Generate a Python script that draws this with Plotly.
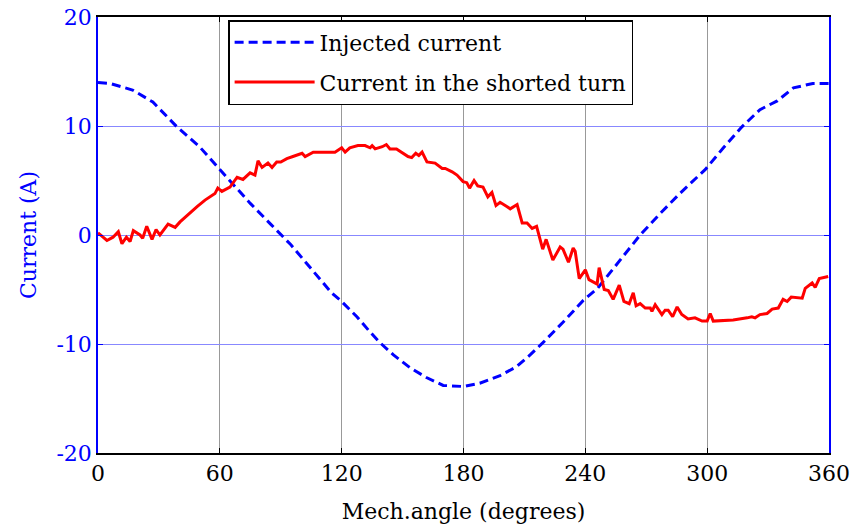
import plotly.graph_objects as go

# Injected current (blue dashed)
blue_x = [0, 6, 17, 27, 39, 50, 60, 75, 85, 95, 105, 115, 120, 127.5, 134, 139, 145.5, 153.8,
          162, 170, 180, 188, 198, 206, 212.8, 219, 229, 239, 246, 258, 267, 277, 286.5, 295,
          299, 308, 317, 326, 334.5, 342.5, 352, 360]
blue_y = [14.0, 13.9, 13.3, 12.2, 9.9, 8.1, 6.0, 2.9, 1.0, -0.9, -3.1, -5.3, -6.1, -7.5, -8.9, -9.9,
          -11.0, -12.2, -13.1, -13.8, -13.9, -13.6, -12.9, -12.1, -11.0, -9.9, -8.0, -6.0, -4.9,
          -2.1, 0.0, 2.0, 3.8, 5.3, 6.0, 8.0, 9.9, 11.5, 12.3, 13.5, 13.9, 13.9]

# Current in the shorted turn (red solid)
red_x = [0, 4.4, 7.4, 10, 11.8, 14, 15.8, 17.4, 20.7, 22, 24, 26.6, 28.6, 30.5, 34.5, 38, 40.4,
         43.8, 48.8, 52.7, 57.6, 59, 61, 65, 68.5, 71.4, 74.9, 77.3, 78.8, 80.8, 83.7, 85.7, 88,
         90, 93, 96, 100.5, 102, 106, 116.7, 120, 121.7, 124, 128, 131.5, 134, 135, 136.5, 140,
         142, 143.8, 147, 150, 152.7, 154.5, 156.5, 158, 159.6, 162, 164.5, 166, 169.5, 171,
         174.4, 176.8, 179.8, 181.6, 183, 185.2, 187, 189.6, 192, 194, 196, 198, 201.5, 203,
         206.4, 208.9, 211.3, 213.8, 216, 219, 220.7, 224, 227.6, 229, 231.7, 234, 235, 237,
         240, 241.8, 245.8, 246.8, 249.3, 251.3, 253.7, 256.7, 259, 261.6, 263.6, 265, 267,
         269.5, 272, 272.8, 274.4, 277.7, 279.3, 280.8, 283, 285.2, 287.5, 290.6, 294, 297.5,
         300, 301.5, 303, 312.8, 319.7, 322, 323.6, 326, 329.5, 332, 335, 337.4, 339.4, 341.4,
         346.8, 348.3, 351.7, 353.2, 355.2, 359.6]
red_y = [0.2, -0.5, -0.2, 0.3, -0.8, -0.2, -0.6, 0.4, 0.0, -0.3, 0.8, -0.4, 0.5, 0.0, 1.0, 0.7, 1.2,
         1.8, 2.6, 3.2, 3.8, 4.3, 4.0, 4.4, 5.3, 5.1, 5.7, 5.5, 6.8, 6.2, 6.6, 6.2, 6.7,
         6.7, 7.0, 7.2, 7.5, 7.2, 7.6, 7.6, 8.0, 7.6, 8.0, 8.2, 8.2, 8.0, 8.2, 7.9, 8.1,
         8.3, 7.9, 7.9, 7.5, 7.2, 7.1, 7.5, 7.3, 7.6, 6.7, 6.6, 6.6, 6.1, 6.1,
         5.8, 5.5, 4.9, 4.8, 4.3, 5.0, 4.5, 4.4, 3.5, 3.9, 2.7, 3.0, 2.6, 2.4,
         2.8, 1.1, 1.1, 0.6, 0.8, -1.3, -0.4, -2.3, -1.1, -1.3, -2.5, -1.2, -1.5, -4.0,
         -3.2, -4.1, -4.5, -3.0, -5.0, -5.1, -5.9, -4.6, -6.1, -6.3, -5.3, -6.5, -6.3,
         -6.7, -6.7, -7.0, -6.4, -7.3, -6.9, -6.9, -7.5, -6.6, -7.3, -7.7, -7.6, -7.9,
         -7.9, -7.2, -7.9, -7.8, -7.6, -7.5, -7.6, -7.3, -7.2, -6.8, -6.7, -5.9, -6.1, -5.7,
         -5.8, -4.9, -4.4, -4.8, -4.0, -3.8]

x_ticks = [0, 60, 120, 180, 240, 300, 360]
y_ticks = [-20, -10, 0, 10, 20]

FONT = "DejaVu Serif"

fig = go.Figure()
fig.add_trace(go.Scatter(x=blue_x, y=blue_y, mode="lines", name="Injected current",
                         legendgroup="a",
                         line=dict(color="#0000ff", width=3, dash="9px,5px")))
fig.add_trace(go.Scatter(x=red_x, y=red_y, mode="lines", name="Current in the shorted turn",
                         legendgroup="b",
                         line=dict(color="#ff0000", width=3)))

fig.update_layout(
    width=854, height=531,
    margin=dict(l=98, r=25, t=17, b=78, autoexpand=False),
    paper_bgcolor="white", plot_bgcolor="white",
    font=dict(family=FONT, size=22, color="black"),
    showlegend=True,
    legend=dict(x=0.178, y=0.993, xanchor="left", yanchor="top",
                bgcolor="white", bordercolor="black", borderwidth=1.5,
                font=dict(family=FONT, size=22, color="black"),
                itemwidth=80, tracegroupgap=8),
)
fig.update_xaxes(
    range=[0, 360], tickvals=x_ticks, ticktext=[str(v) for v in x_ticks],
    showline=True, linecolor="black", linewidth=1.5, mirror="ticks",
    ticks="inside", ticklen=5, tickcolor="black", automargin=False,
    showgrid=True, gridcolor="#999999", gridwidth=1, zeroline=False,
    tickfont=dict(family=FONT, size=22, color="black"),
    title=dict(text="Mech.angle (degrees)", font=dict(family=FONT, size=22, color="black"), standoff=18),
)
fig.update_yaxes(
    range=[-20, 20], tickvals=y_ticks, ticktext=[str(v) for v in y_ticks],
    showline=True, linecolor="#0000ff", linewidth=1.5, mirror="ticks",
    ticks="inside", ticklen=5, tickcolor="#0000ff", automargin=False,
    showgrid=True, gridcolor="#8888ff", gridwidth=1, zeroline=False,
    tickfont=dict(family=FONT, size=22, color="#0000ff"),
    title=dict(text="Current (A)", font=dict(family=FONT, size=22, color="#0000ff"), standoff=14),
)

fig.write_html("out.html")
